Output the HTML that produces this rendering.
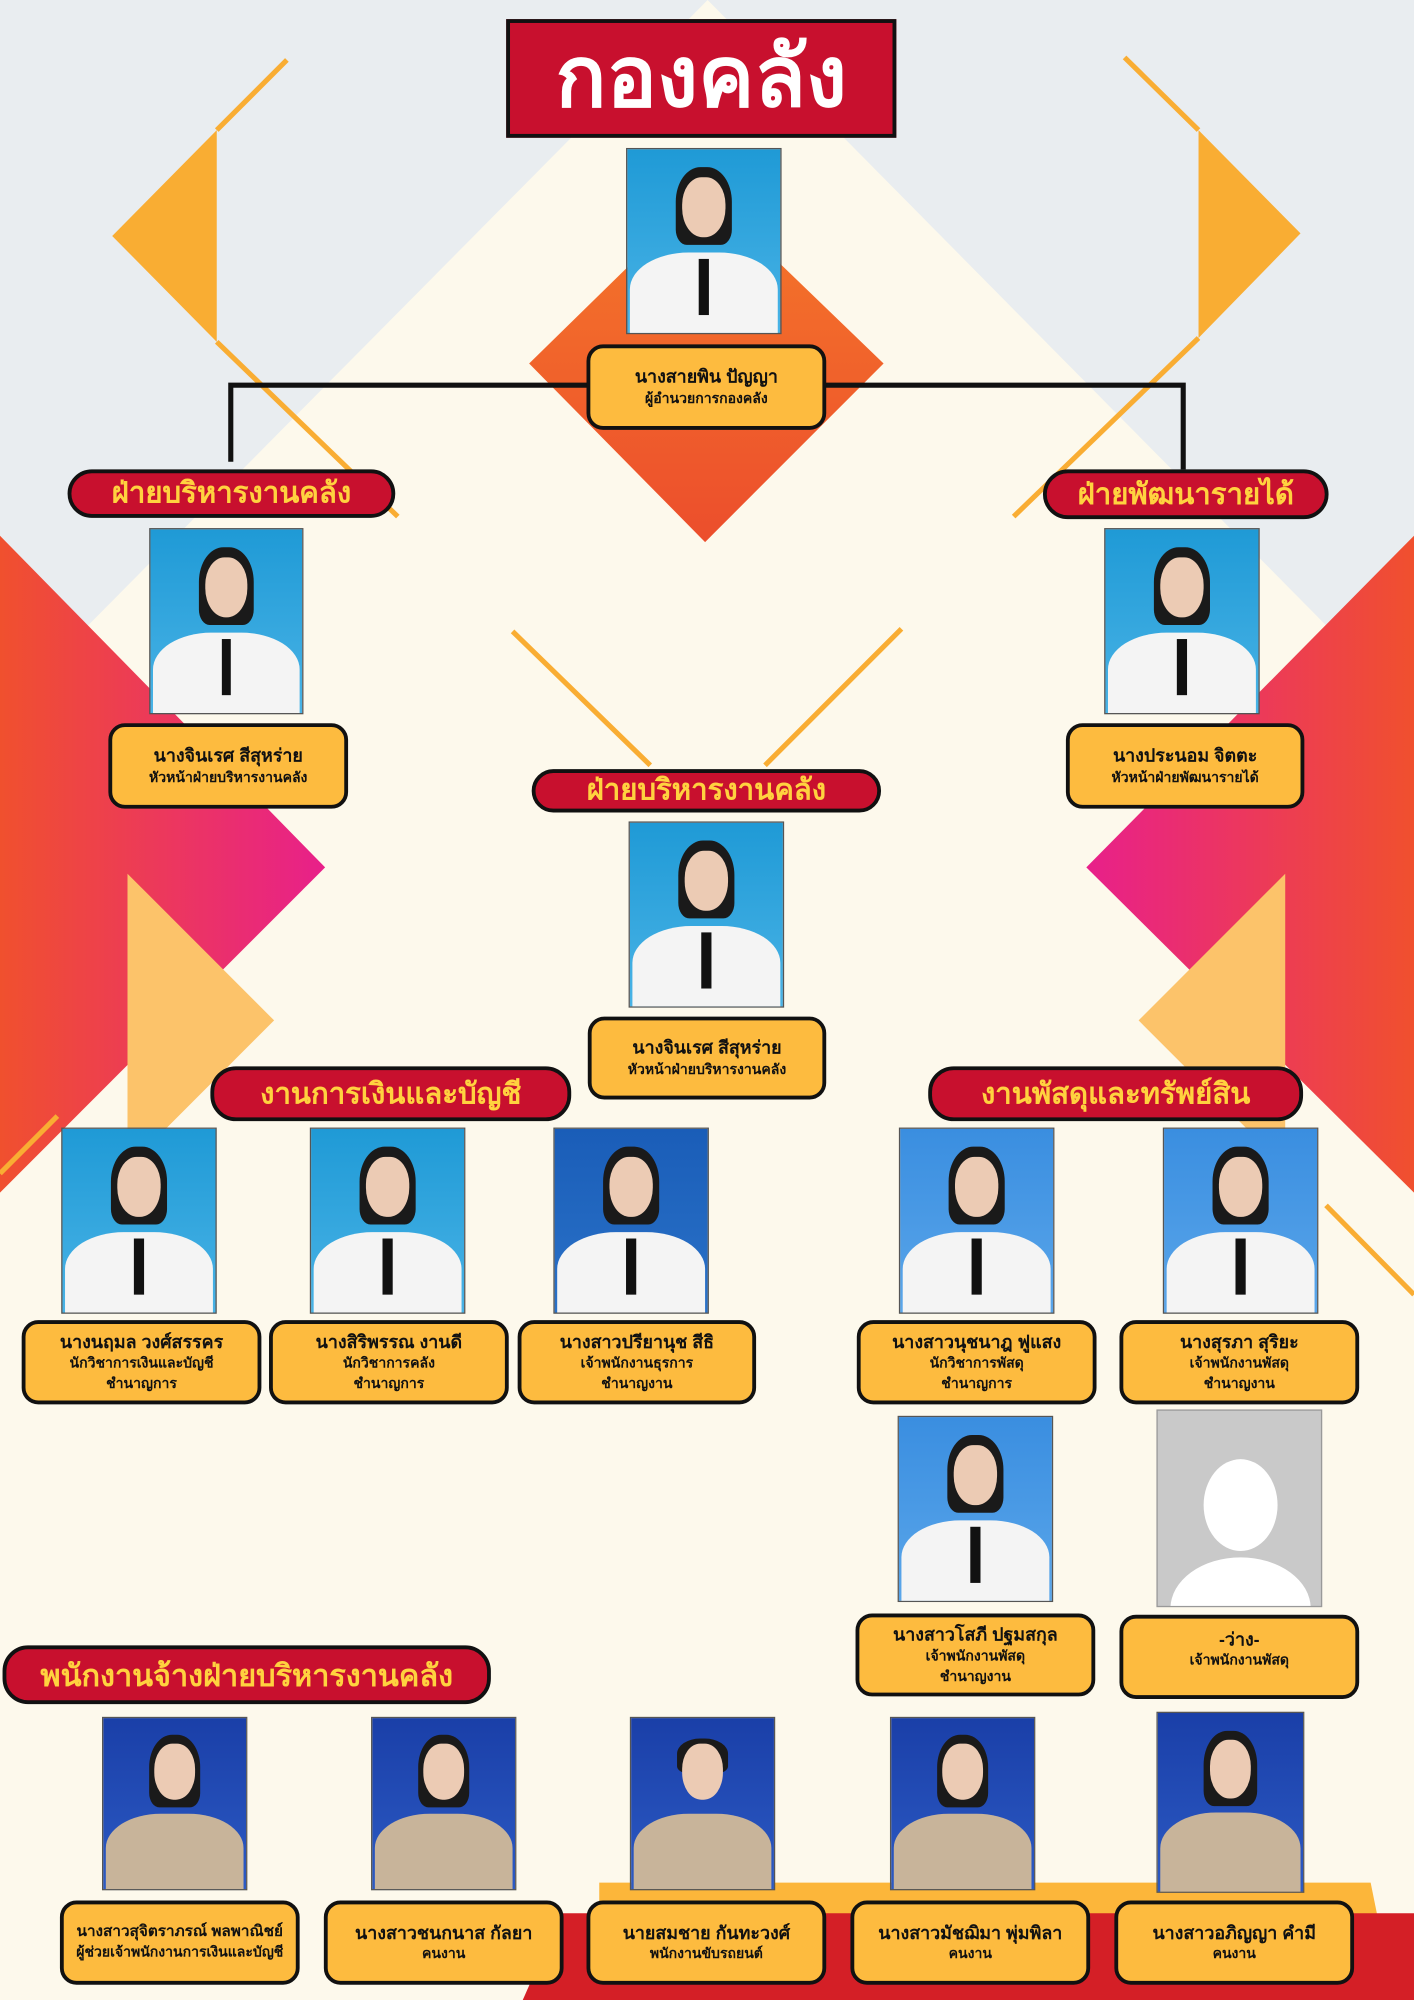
<!DOCTYPE html>
<html><head><meta charset="utf-8">
<style>
*{margin:0;padding:0;box-sizing:border-box}
html,body{width:1414px;height:2000px;overflow:hidden;background:#fdf9ec}
#c{position:absolute;left:0;top:0;width:1109px;height:1568px;transform:scale(1.27502,1.27551);transform-origin:0 0;font-family:"Liberation Sans","Noto Sans CJK SC",sans-serif}
.a{position:absolute}
.lbl{position:absolute;background:#fdbb3f;border:3px solid #111;border-radius:13px;text-align:center;font-weight:bold;color:#111;display:flex;flex-direction:column;justify-content:center;line-height:1.45}
.lbl b{font-size:14px}
.lbl i{font-style:normal;font-size:11px}
.hd{position:absolute;background:#c8102e;border:3px solid #111;border-radius:20px;color:#ffd23f;font-weight:bold;font-size:23px;text-align:center;display:flex;align-items:center;justify-content:center;white-space:nowrap}
.ph{position:absolute;overflow:hidden;background:linear-gradient(#1f9ad6,#49b3e6);border:1px solid #555}
.ph .hair{position:absolute;left:32%;top:10%;width:36%;height:42%;background:#1a1a1a;border-radius:45% 45% 20% 20%}
.ph .face{position:absolute;left:36%;top:15%;width:28%;height:33%;background:#eccbb4;border-radius:45% 45% 48% 48%}
.ph .body{position:absolute;left:2%;top:56%;width:96%;height:50%;background:#f4f4f4;border-radius:40% 40% 0 0}
.ph .tie{position:absolute;left:47%;top:60%;width:6%;height:30%;background:#111}
.k{background:linear-gradient(#1a3fa8,#2c5ac4)}
.k .body{background:#c8b49a}
.k .tie{display:none}
</style></head><body>
<div id="c">
<svg class="a" style="left:0;top:0" width="1109" height="1568">
<defs>
<linearGradient id="g1" x1="0" y1="0" x2="1" y2="0"><stop offset="0" stop-color="#f0502e"/><stop offset="1" stop-color="#e8208a"/></linearGradient>
<linearGradient id="g2" x1="1" y1="0" x2="0" y2="0"><stop offset="0" stop-color="#f0502e"/><stop offset="1" stop-color="#e8208a"/></linearGradient>
<linearGradient id="g3" x1="0" y1="0" x2="0" y2="1"><stop offset="0" stop-color="#f5782a"/><stop offset="1" stop-color="#ec4e2c"/></linearGradient>
</defs>
<rect width="1109" height="1568" fill="#e9edf0"/>
<polygon points="555,0 1109,560 1109,1568 0,1568 0,560" fill="#fdf9ec"/>
<polygon points="0,420 255,680 0,935" fill="url(#g1)"/>
<polygon points="1109,420 852,680 1109,935" fill="url(#g2)"/>
<polygon points="100,685 215,800 100,915" fill="#fcc36a"/>
<polygon points="1008,685 893,800 1008,915" fill="#fcc36a"/>
<polygon points="170,102 88,185 170,268" fill="#f9ad33"/>
<polygon points="940,102 1020,183 940,265" fill="#f9ad33"/>
<g stroke="#f9ad33" stroke-width="4">
<line x1="225" y1="47" x2="170" y2="102"/><line x1="170" y1="268" x2="312" y2="405"/>
<line x1="882" y1="45" x2="940" y2="102"/><line x1="940" y1="265" x2="795" y2="405"/>
<line x1="402" y1="495" x2="510" y2="600"/><line x1="707" y1="493" x2="600" y2="600"/>
<line x1="0" y1="920" x2="45" y2="875"/><line x1="1040" y1="945" x2="1109" y2="1015"/>
</g>
<polygon points="553,150 693,285 553,425 415,285" fill="url(#g3)"/>
<polygon points="470,1476 1075,1476 1090,1550 470,1550" fill="#fcb63a"/>
<polygon points="440,1500 1109,1500 1109,1568 410,1568" fill="#d41f26"/>
<polyline points="181,362 181,302 928,302 928,368" fill="none" stroke="#111" stroke-width="4"/>
</svg>

<div class="a" style="left:397px;top:15px;width:306px;height:93px;background:#c8102e;border:3px solid #111;color:#fff;font-weight:bold;font-size:66px;text-align:center;line-height:84px">กองคลัง</div>

<div class="ph" style="left:491px;top:116px;width:122px;height:146px"><div class="hair"></div><div class="face"></div><div class="body"></div><div class="tie"></div></div>
<div class="lbl" style="left:460px;top:270px;width:188px;height:67px"><b>นางสายพิน ปัญญา</b><i>ผู้อำนวยการกองคลัง</i></div>

<div class="hd" style="left:53px;top:368px;width:257px;height:38px">ฝ่ายบริหารงานคลัง</div>
<div class="hd" style="left:818px;top:368px;width:224px;height:39px">ฝ่ายพัฒนารายได้</div>

<div class="ph" style="left:117px;top:414px;width:121px;height:146px"><div class="hair"></div><div class="face"></div><div class="body"></div><div class="tie"></div></div>
<div class="lbl" style="left:85px;top:567px;width:188px;height:67px"><b>นางจินเรศ สีสุหร่าย</b><i>หัวหน้าฝ่ายบริหารงานคลัง</i></div>
<div class="ph" style="left:866px;top:414px;width:122px;height:146px"><div class="hair"></div><div class="face"></div><div class="body"></div><div class="tie"></div></div>
<div class="lbl" style="left:836px;top:567px;width:187px;height:67px"><b>นางประนอม จิตตะ</b><i>หัวหน้าฝ่ายพัฒนารายได้</i></div>

<div class="hd" style="left:417px;top:603px;width:274px;height:34px">ฝ่ายบริหารงานคลัง</div>
<div class="ph" style="left:493px;top:644px;width:122px;height:146px"><div class="hair"></div><div class="face"></div><div class="body"></div><div class="tie"></div></div>
<div class="lbl" style="left:461px;top:797px;width:187px;height:65px"><b>นางจินเรศ สีสุหร่าย</b><i>หัวหน้าฝ่ายบริหารงานคลัง</i></div>

<div class="hd" style="left:165px;top:836px;width:283px;height:43px">งานการเงินและบัญชี</div>
<div class="hd" style="left:728px;top:836px;width:294px;height:43px">งานพัสดุและทรัพย์สิน</div>

<div class="ph" style="left:48px;top:884px;width:122px;height:146px"><div class="hair"></div><div class="face"></div><div class="body"></div><div class="tie"></div></div>
<div class="ph" style="left:243px;top:884px;width:122px;height:146px"><div class="hair"></div><div class="face"></div><div class="body"></div><div class="tie"></div></div>
<div class="ph" style="left:434px;top:884px;width:122px;height:146px;background:linear-gradient(#1a5db8,#2a72c8)"><div class="hair"></div><div class="face"></div><div class="body"></div><div class="tie"></div></div>
<div class="ph" style="left:705px;top:884px;width:122px;height:146px;background:linear-gradient(#3a8ee0,#5aa6ea)"><div class="hair"></div><div class="face"></div><div class="body"></div><div class="tie"></div></div>
<div class="ph" style="left:912px;top:884px;width:122px;height:146px;background:linear-gradient(#3a8ee0,#5aa6ea)"><div class="hair"></div><div class="face"></div><div class="body"></div><div class="tie"></div></div>

<div class="lbl" style="left:17px;top:1035px;width:188px;height:66px"><b>นางนฤมล วงศ์สรรคร</b><i>นักวิชาการเงินและบัญชี</i><i>ชำนาญการ</i></div>
<div class="lbl" style="left:211px;top:1035px;width:188px;height:66px"><b>นางสิริพรรณ งานดี</b><i>นักวิชาการคลัง</i><i>ชำนาญการ</i></div>
<div class="lbl" style="left:406px;top:1035px;width:187px;height:66px"><b>นางสาวปรียานุช สีธิ</b><i>เจ้าพนักงานธุรการ</i><i>ชำนาญงาน</i></div>
<div class="lbl" style="left:672px;top:1035px;width:188px;height:66px"><b>นางสาวนุชนาฎ ฟูแสง</b><i>นักวิชาการพัสดุ</i><i>ชำนาญการ</i></div>
<div class="lbl" style="left:878px;top:1035px;width:188px;height:66px"><b>นางสุรภา สุริยะ</b><i>เจ้าพนักงานพัสดุ</i><i>ชำนาญงาน</i></div>

<div class="ph" style="left:704px;top:1110px;width:122px;height:146px;background:linear-gradient(#3a8ee0,#5aa6ea)"><div class="hair"></div><div class="face"></div><div class="body"></div><div class="tie"></div></div>
<div class="lbl" style="left:671px;top:1265px;width:188px;height:65px"><b>นางสาวโสภี ปฐมสกุล</b><i>เจ้าพนักงานพัสดุ</i><i>ชำนาญงาน</i></div>
<div class="a" style="left:907px;top:1105px;width:130px;height:155px;background:#c9c9c9;border:1px solid #999;overflow:hidden">
<div class="a" style="left:36px;top:38px;width:58px;height:72px;background:#fff;border-radius:50%"></div>
<div class="a" style="left:10px;top:115px;width:110px;height:80px;background:#fff;border-radius:50% 50% 0 0"></div></div>
<div class="lbl" style="left:878px;top:1266px;width:188px;height:66px;justify-content:flex-start;padding-top:6px"><b>-ว่าง-</b><i>เจ้าพนักงานพัสดุ</i></div>

<div class="hd" style="left:2px;top:1290px;width:383px;height:46px;font-size:24px">พนักงานจ้างฝ่ายบริหารงานคลัง</div>

<div class="ph k" style="left:80px;top:1346px;width:114px;height:136px"><div class="hair"></div><div class="face"></div><div class="body"></div></div>
<div class="ph k" style="left:291px;top:1346px;width:114px;height:136px"><div class="hair"></div><div class="face"></div><div class="body"></div></div>
<div class="ph k" style="left:494px;top:1346px;width:114px;height:136px"><div class="hair" style="top:12%;height:20%"></div><div class="face"></div><div class="body"></div></div>
<div class="ph k" style="left:698px;top:1346px;width:114px;height:136px"><div class="hair"></div><div class="face"></div><div class="body"></div></div>
<div class="ph k" style="left:907px;top:1342px;width:116px;height:142px"><div class="hair"></div><div class="face"></div><div class="body"></div></div>

<div class="lbl" style="left:47px;top:1490px;width:188px;height:66px"><b style="font-size:12px">นางสาวสุจิตราภรณ์ พลพาณิชย์</b><i>ผู้ช่วยเจ้าพนักงานการเงินและบัญชี</i></div>
<div class="lbl" style="left:254px;top:1490px;width:188px;height:66px"><b>นางสาวชนกนาส กัลยา</b><i>คนงาน</i></div>
<div class="lbl" style="left:460px;top:1490px;width:188px;height:66px"><b>นายสมชาย กันทะวงศ์</b><i>พนักงานขับรถยนต์</i></div>
<div class="lbl" style="left:667px;top:1490px;width:188px;height:66px"><b>นางสาวมัชฌิมา พุ่มพิลา</b><i>คนงาน</i></div>
<div class="lbl" style="left:874px;top:1490px;width:188px;height:66px"><b>นางสาวอภิญญา คำมี</b><i>คนงาน</i></div>
</div>
</body></html>
